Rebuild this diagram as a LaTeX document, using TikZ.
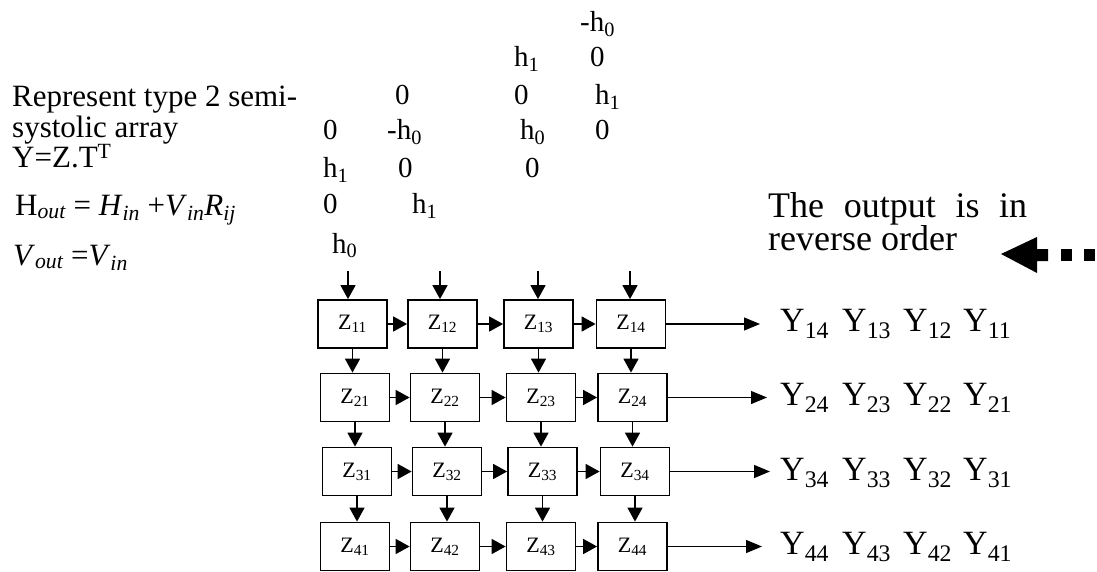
\documentclass[tikz,border=0pt]{standalone}
\usepackage{fontspec}
\setmainfont{Liberation Serif}
\usetikzlibrary{arrows.meta}
\newcommand{\isub}[1]{\textsubscript{\itshape #1}}
\begin{document}
\begin{tikzpicture}[x=1pt,y=-1pt,
  txt/.style={anchor=base west, inner sep=0pt, font=\fontsize{31}{31}\selectfont},
  eqn/.style={anchor=base west, inner sep=0pt, font=\fontsize{31}{31}\selectfont},
  mat/.style={anchor=base west, inner sep=0pt, font=\fontsize{29}{29}\selectfont},
  zbox/.style={draw, line width=1.8pt, minimum width=69pt, minimum height=48pt, inner sep=0pt, font=\fontsize{22}{22}\selectfont},
  arr/.style={line width=1.6pt, -{Triangle[length=14pt,width=15pt]}},
  oarr/.style={line width=1.2pt, -{Triangle[length=16pt,width=13pt]}},
  ylab/.style={anchor=base west, inner sep=0pt, font=\fontsize{34}{34}\selectfont},
  note/.style={anchor=base west, inner sep=0pt, font=\fontsize{36}{36}\selectfont},
  big/.style={fill=black},
]
\useasboundingbox (0,0) rectangle (1097,572);

% left description
\node[txt] (l1) at (12,107) {Represent type 2 semi-};
\node[txt] (l2) at (12,138) {systolic array};
\node[txt] (l3) at (12,168) {Y=Z.T\textsuperscript{T}};
\node[eqn] (l4) at (15,215) {H\isub{out} = \textit{H}\isub{in} +\textit{V}\isub{in}\textit{R}\isub{ij}};
\node[eqn] (l5) at (13,265) {\textit{V}\isub{out} =\textit{V}\isub{in}};

% skewed coefficient matrix
\node[mat] (a1) at (580,32) {-h\textsubscript{0}};
\node[mat] (b1) at (514,67) {h\textsubscript{1}};
\node[mat] (b2) at (590,67) {0};
\node[mat] (c1) at (395,105) {0};
\node[mat] (c2) at (514,105) {0};
\node[mat] (c3) at (595,105) {h\textsubscript{1}};
\node[mat] (d1) at (323,140) {0};
\node[mat] (d2) at (387,140) {-h\textsubscript{0}};
\node[mat] (d3) at (520,140) {h\textsubscript{0}};
\node[mat] (d4) at (595,140) {0};
\node[mat] (e1) at (323,178) {h\textsubscript{1}};
\node[mat] (e2) at (398,178) {0};
\node[mat] (e3) at (525,178) {0};
\node[mat] (f1) at (323,214) {0};
\node[mat] (f2) at (412,214) {h\textsubscript{1}};
\node[mat] (g1) at (332,253) {h\textsubscript{0}};

% processing elements
\node[zbox] (Z11) at (352.5,324) {Z\textsubscript{11}};
\node[zbox] (Z12) at (442.5,324) {Z\textsubscript{12}};
\node[zbox] (Z13) at (538.5,324) {Z\textsubscript{13}};
\node[zbox] (Z14) at (631,324) {Z\textsubscript{14}};
\node[zbox] (Z21) at (355,397.5) {Z\textsubscript{21}};
\node[zbox] (Z22) at (445,397.5) {Z\textsubscript{22}};
\node[zbox] (Z23) at (541,397.5) {Z\textsubscript{23}};
\node[zbox] (Z24) at (632.5,397.5) {Z\textsubscript{24}};
\node[zbox] (Z31) at (357,471.5) {Z\textsubscript{31}};
\node[zbox] (Z32) at (447,471.5) {Z\textsubscript{32}};
\node[zbox] (Z33) at (542.5,471.5) {Z\textsubscript{33}};
\node[zbox] (Z34) at (635,471.5) {Z\textsubscript{34}};
\node[zbox] (Z41) at (355,546.5) {Z\textsubscript{41}};
\node[zbox] (Z42) at (445,546.5) {Z\textsubscript{42}};
\node[zbox] (Z43) at (541,546.5) {Z\textsubscript{43}};
\node[zbox] (Z44) at (632.5,546.5) {Z\textsubscript{44}};

% input arrows
\coordinate (t1) at (348,271);
\coordinate (t2) at (440,271);
\coordinate (t3) at (538,271);
\coordinate (t4) at (630,271);
\draw[arr] (t1) -- (t1 |- Z11.north);
\draw[arr] (t2) -- (t2 |- Z12.north);
\draw[arr] (t3) -- (t3 |- Z13.north);
\draw[arr] (t4) -- (t4 |- Z14.north);

% horizontal arrows
\foreach \r in {1,2,3,4}{
  \draw[arr] (Z\r1.east) -- (Z\r2.west);
  \draw[arr] (Z\r2.east) -- (Z\r3.west);
  \draw[arr] (Z\r3.east) -- (Z\r4.west);
}
% vertical arrows
\foreach \r/\s in {1/2,2/3,3/4}{
  \foreach \c in {1,2,3,4}{
    \draw[arr] (Z\r\c.south) -- (Z\r\c.south |- Z\s\c.north);
  }
}

% output arrows
\coordinate (o1) at (760,324);
\coordinate (o2) at (767,397.5);
\coordinate (o3) at (770,471.5);
\coordinate (o4) at (762,546.5);
\draw[oarr] (Z14.east) -- (o1);
\draw[oarr] (Z24.east) -- (o2);
\draw[oarr] (Z34.east) -- (o3);
\draw[oarr] (Z44.east) -- (o4);

% outputs
\foreach \r/\yy in {1/331,2/405,3/480,4/554}{
  \node[ylab] (y\r4) at (780,\yy) {Y\textsubscript{\r4}};
  \node[ylab] (y\r3) at (842,\yy) {Y\textsubscript{\r3}};
  \node[ylab] (y\r2) at (903,\yy) {Y\textsubscript{\r2}};
  \node[ylab] (y\r1) at (963,\yy) {Y\textsubscript{\r1}};
}

% note
\node[note] (n1) at (768,217) {\makebox[259pt][s]{The output is in}};
\node[note] (n2) at (768,250) {reverse order};

% big dotted left arrow
\fill[big] (1001,254) -- (1037,237) -- (1037,249) -- (1048,249) -- (1048,261) -- (1037,261) -- (1037,273) -- cycle;
\fill[big] (1061,249) rectangle (1072,261);
\fill[big] (1084,249) rectangle (1095,261);
\end{tikzpicture}
\end{document}
